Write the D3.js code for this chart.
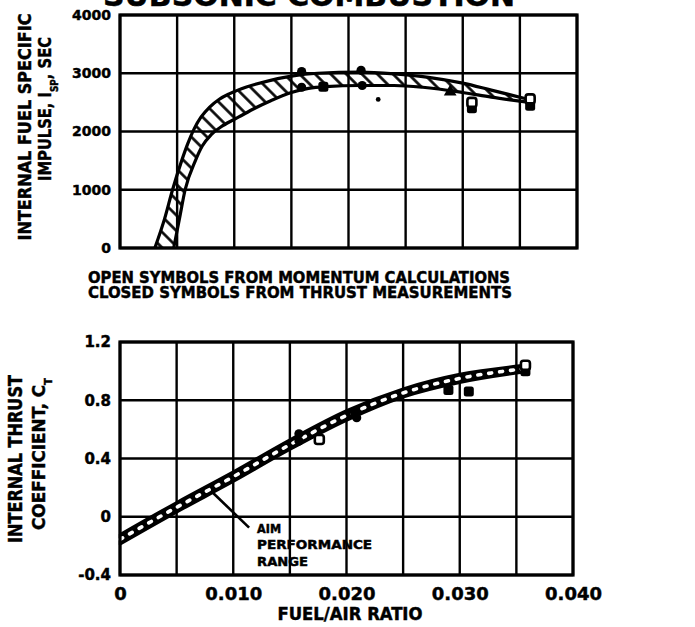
<!DOCTYPE html>
<html>
<head>
<meta charset="utf-8">
<script src="https://cdn.jsdelivr.net/npm/d3@7"></script>
<style>
  body { margin: 0; background: #fff; }
  text { font-family: "DejaVu Sans Condensed", "DejaVu Sans", sans-serif; font-weight: bold; fill: #000;
         stroke: #000; stroke-width: 0.45px; }
</style>
</head>
<body>
<svg id="chart" width="695" height="627"></svg>
<script>
// ---- data ----
const fuelAirGrid = [0, 0.005, 0.010, 0.015, 0.020, 0.025, 0.030, 0.035, 0.040];
const fuelAirTicks = [0, 0.010, 0.020, 0.030, 0.040];
const ispTicks = [0, 1000, 2000, 3000, 4000];
const ctTicks = [-0.4, 0, 0.4, 0.8, 1.2];

// specific impulse band (fuel/air ratio, Isp sec)
const ispBandHigh = [[0.00305, 0], [0.0039, 500], [0.0046, 1000], [0.0054, 1500], [0.00595, 1800],
  [0.0065, 2050], [0.0071, 2250], [0.00785, 2420], [0.00866, 2550], [0.0096, 2650], [0.0110, 2760],
  [0.0130, 2870], [0.0150, 2950], [0.0173, 3000], [0.021, 3020], [0.024, 2990], [0.027, 2930],
  [0.030, 2830], [0.0325, 2710], [0.0358, 2550]];
const ispBandLow = [[0.0047, 0], [0.0052, 500], [0.0057, 1000], [0.0066, 1500], [0.0072, 1750],
  [0.0080, 1950], [0.0090, 2100], [0.0104, 2250], [0.0118, 2400], [0.0131, 2520], [0.0150, 2670],
  [0.0165, 2740], [0.018, 2770], [0.021, 2790], [0.024, 2790], [0.0265, 2760], [0.030, 2670],
  [0.0325, 2590], [0.0358, 2500]];

// thrust coefficient band (fuel/air ratio, CT)
const ctBandHigh = [[0, -0.12], [0.005, 0.10], [0.010, 0.31], [0.015, 0.53], [0.020, 0.73],
  [0.025, 0.88], [0.030, 0.98], [0.0355, 1.04]];
const ctBandLow = [[0, -0.19], [0.005, 0.03], [0.010, 0.24], [0.015, 0.46], [0.020, 0.66],
  [0.025, 0.82], [0.030, 0.92], [0.0355, 0.99]];

// measured points
const ispClosedCircles = [[0.0159, 3030], [0.0159, 2760], [0.0211, 3050], [0.0212, 2790]];
const ispDots = [[0.0226, 2550]];
const ispClosedSquares = [[0.0178, 2770], [0.0308, 2400], [0.0359, 2440]];
const ispOpenSquares = [[0.0308, 2500], [0.0359, 2560]];
const ispClosedTriangles = [[0.0289, 2680]];

const ctClosedCircles = [[0.0158, 0.57], [0.0158, 0.52], [0.0207, 0.72], [0.0209, 0.68]];
const ctOpenSquares = [[0.0176, 0.53], [0.0358, 1.04]];
const ctClosedSquares = [[0.0290, 0.87], [0.0308, 0.86], [0.0358, 1.00]];

// leader from the band to the note (fuel/air, CT)
const noteLeader = [[0.0082, 0.165], [0.0114, -0.075]];
const noteLines = ["AIM", "PERFORMANCE", "RANGE"];

// ---- drawing ----
const svg = d3.select("#chart");

const xTop = d3.scaleLinear().domain([0, 0.04]).range([120, 577]);
const yTop = d3.scaleLinear().domain([0, 4000]).range([248, 15]);
const xBot = d3.scaleLinear().domain([0, 0.04]).range([120, 573]);
const yBot = d3.scaleLinear().domain([-0.4, 1.2]).range([575, 342]);

// title (runs off the top edge)
svg.append("text")
  .attr("x", 103).attr("y", 6)
  .attr("textLength", 412).attr("lengthAdjust", "spacingAndGlyphs")
  .style("font-size", "30px")
  .text("SUBSONIC COMBUSTION");

const defs = svg.append("defs");
defs.append("pattern")
  .attr("id", "hatch")
  .attr("patternUnits", "userSpaceOnUse")
  .attr("width", 11).attr("height", 11)
  .attr("patternTransform", "rotate(-45)")
  .append("line")
  .attr("x1", 5.5).attr("y1", 0).attr("x2", 5.5).attr("y2", 11)
  .attr("stroke", "#000").attr("stroke-width", 2.6);

function drawPanel(g, x, y, yTicksVals, yFmt, yFont) {
  const [x0, x1] = x.range();
  const [y0, y1] = y.range();
  g.append("g").selectAll("line").data(fuelAirGrid).join("line")
    .attr("x1", d => x(d)).attr("x2", d => x(d))
    .attr("y1", y0).attr("y2", y1)
    .attr("stroke", "#000").attr("stroke-width", 2.4);
  g.append("g").selectAll("line").data(yTicksVals).join("line")
    .attr("x1", x0).attr("x2", x1)
    .attr("y1", d => y(d)).attr("y2", d => y(d))
    .attr("stroke", "#000").attr("stroke-width", 2.4);
  const ax = g.append("g")
    .attr("transform", `translate(${x0},0)`)
    .call(d3.axisLeft(y).tickValues(yTicksVals).tickSize(0).tickPadding(9).tickFormat(yFmt));
  ax.select(".domain").remove();
  ax.selectAll("text")
    .style("font-family", "'DejaVu Sans', sans-serif")
    .style("font-weight", "bold")
    .style("font-size", yFont + "px")
    .attr("fill", "#000");
}

function bandPath(line, hi, lo) {
  const a = line(hi);
  const b = line(lo.slice().reverse()).replace(/^M/, "L");
  return a + b + "Z";
}

function frame(g, x, y) {
  const [x0, x1] = x.range();
  const [y0, y1] = y.range();
  g.append("rect")
    .attr("x", x0).attr("y", y1)
    .attr("width", x1 - x0).attr("height", y0 - y1)
    .attr("fill", "none").attr("stroke", "#000").attr("stroke-width", 3.2);
}

function markers(g, x, y, sets) {
  const sym = (type, size) => d3.symbol().type(type).size(size)();
  g.append("g").selectAll("circle").data(sets.closedCircles || []).join("circle")
    .attr("cx", d => x(d[0])).attr("cy", d => y(d[1])).attr("r", 4.6).attr("fill", "#000");
  g.append("g").selectAll("circle").data(sets.dots || []).join("circle")
    .attr("cx", d => x(d[0])).attr("cy", d => y(d[1])).attr("r", 2.4).attr("fill", "#000");
  g.append("g").selectAll("rect").data(sets.closedSquares || []).join("rect")
    .attr("x", d => x(d[0]) - 5).attr("y", d => y(d[1]) - 5)
    .attr("width", 10).attr("height", 10).attr("rx", 2.5).attr("fill", "#000");
  g.append("g").selectAll("rect").data(sets.openSquares || []).join("rect")
    .attr("x", d => x(d[0]) - 4.5).attr("y", d => y(d[1]) - 4.5)
    .attr("width", 9).attr("height", 9).attr("rx", 2.5)
    .attr("fill", "#fff").attr("stroke", "#000").attr("stroke-width", 2.6);
  g.append("g").selectAll("path").data(sets.closedTriangles || []).join("path")
    .attr("transform", d => `translate(${x(d[0])},${y(d[1])})`)
    .attr("d", sym(d3.symbolTriangle, 70)).attr("fill", "#000");
}

// ---- upper panel: specific impulse ----
const ispPanel = svg.append("g");
drawPanel(ispPanel, xTop, yTop, ispTicks, d3.format("d"), 14);

const lineTop = d3.line().x(d => xTop(d[0])).y(d => yTop(d[1])).curve(d3.curveMonotoneX);
defs.append("clipPath").attr("id", "ispBandClip")
  .append("path").attr("d", bandPath(lineTop, ispBandHigh, ispBandLow));
ispPanel.append("rect")
  .attr("x", 120).attr("y", 15).attr("width", 457).attr("height", 233)
  .attr("fill", "url(#hatch)").attr("clip-path", "url(#ispBandClip)");
[ispBandHigh, ispBandLow].forEach(edge => {
  ispPanel.append("path").attr("d", lineTop(edge))
    .attr("fill", "none").attr("stroke", "#000").attr("stroke-width", 3.2);
});
markers(ispPanel, xTop, yTop, {
  closedCircles: ispClosedCircles, dots: ispDots, closedSquares: ispClosedSquares,
  openSquares: ispOpenSquares, closedTriangles: ispClosedTriangles
});
frame(ispPanel, xTop, yTop);

// ---- lower panel: thrust coefficient ----
const ctPanel = svg.append("g");
drawPanel(ctPanel, xBot, yBot, ctTicks, d => d === 0 ? "0" : d3.format(".1f")(d).replace("\u2212", "-"), 15);

const xAx = ctPanel.append("g")
  .attr("transform", "translate(0,575)")
  .call(d3.axisBottom(xBot).tickValues(fuelAirTicks).tickSize(0).tickPadding(12)
    .tickFormat(d => d === 0 ? "0" : d3.format(".3f")(d)));
xAx.select(".domain").remove();
xAx.selectAll("text")
  .style("font-family", "'DejaVu Sans', sans-serif")
  .style("font-weight", "bold")
  .style("font-size", "18px")
  .attr("fill", "#000");

const lineBot = d3.line().x(d => xBot(d[0])).y(d => yBot(d[1])).curve(d3.curveMonotoneX);
ctPanel.append("path").attr("d", bandPath(lineBot, ctBandHigh, ctBandLow))
  .attr("fill", "#000").attr("stroke", "#000").attr("stroke-width", 2.4).attr("stroke-linejoin", "round");
const ctMid = ctBandHigh.map((d, i) => [d[0], (d[1] + ctBandLow[i][1]) / 2]);
ctPanel.append("path").attr("d", lineBot(ctMid))
  .attr("fill", "none").attr("stroke", "#fff").attr("stroke-width", 3.6)
  .attr("stroke-dasharray", "3 8").attr("stroke-linecap", "round");

markers(ctPanel, xBot, yBot, {
  closedCircles: ctClosedCircles, openSquares: ctOpenSquares, closedSquares: ctClosedSquares
});

// note with leader
ctPanel.append("line")
  .attr("x1", xBot(noteLeader[0][0])).attr("y1", yBot(noteLeader[0][1]))
  .attr("x2", xBot(noteLeader[1][0])).attr("y2", yBot(noteLeader[1][1]))
  .attr("stroke", "#000").attr("stroke-width", 2.6);
const noteX = xBot(noteLeader[1][0]) + 8;
const noteY = yBot(noteLeader[1][1]) + 5;
const noteWidths = { "AIM": 24, "PERFORMANCE": 115, "RANGE": 51 };
ctPanel.append("g").selectAll("text").data(noteLines).join("text")
  .attr("x", noteX).attr("y", (d, i) => noteY + i * 16.5)
  .style("font-size", "12.5px")
  .attr("textLength", d => noteWidths[d])
  .attr("lengthAdjust", "spacingAndGlyphs")
  .text(d => d);

frame(ctPanel, xBot, yBot);

// ---- axis titles and caption ----
svg.append("text")
  .attr("x", 350).attr("y", 620).attr("text-anchor", "middle")
  .attr("textLength", 145).attr("lengthAdjust", "spacingAndGlyphs")
  .style("font-size", "18px")
  .text("FUEL/AIR RATIO");

svg.append("text")
  .attr("x", 88).attr("y", 283)
  .attr("textLength", 422).attr("lengthAdjust", "spacingAndGlyphs")
  .style("font-size", "16.5px")
  .text("OPEN SYMBOLS FROM MOMENTUM CALCULATIONS");
svg.append("text")
  .attr("x", 88).attr("y", 298)
  .attr("textLength", 424).attr("lengthAdjust", "spacingAndGlyphs")
  .style("font-size", "16.5px")
  .text("CLOSED SYMBOLS FROM THRUST MEASUREMENTS");

function yTitle(cx, cy, len, size, parts) {
  const t = svg.append("text")
    .attr("transform", `translate(${cx},${cy}) rotate(-90)`)
    .attr("text-anchor", "middle")
    .attr("textLength", len).attr("lengthAdjust", "spacingAndGlyphs")
    .style("font-size", size + "px");
  parts.forEach(p => {
    const s = t.append("tspan").text(p.t);
    if (p.sub) s.style("font-size", (size * 0.6) + "px").attr("baseline-shift", "sub");
  });
}
yTitle(31, 127, 227, 18, [{ t: "INTERNAL FUEL SPECIFIC" }]);
yTitle(51, 109, 144, 18, [{ t: "IMPULSE, I" }, { t: "SP", sub: true }, { t: ", SEC" }]);
yTitle(22, 459, 168, 19, [{ t: "INTERNAL THRUST" }]);
yTitle(45, 454, 152, 18, [{ t: "COEFFICIENT, C" }, { t: "T", sub: true }]);
</script>
</body>
</html>
